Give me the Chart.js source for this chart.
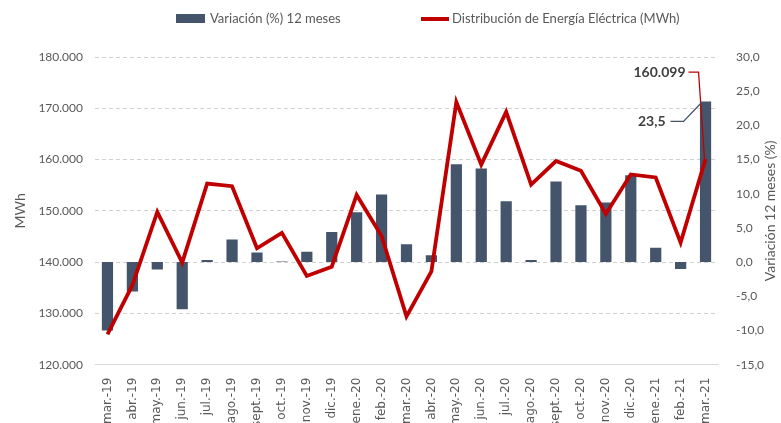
<!DOCTYPE html>
<html>
<head>
<meta charset="utf-8">
<script src="https://cdn.jsdelivr.net/npm/chart.js@4"></script>
<style>
  html, body { margin: 0; padding: 0; background: #fff; overflow: hidden; }
  #wrap { width: 781px; height: 432px; }
</style>
</head>
<body>
<div id="wrap"><canvas id="chart"></canvas></div>
<script>
var months = ['mar.-19', 'abr.-19', 'may.-19', 'jun.-19', 'jul.-19', 'ago.-19', 'sept.-19', 'oct.-19', 'nov.-19', 'dic.-19',
    'ene.-20', 'feb.-20', 'mar.-20', 'abr.-20', 'may.-20', 'jun.-20', 'jul.-20', 'ago.-20', 'sept.-20', 'oct.-20',
    'nov.-20', 'dic.-20', 'ene.-21', 'feb.-21', 'mar.-21'];

// variación 12 meses (%)
var variacion = [-10.0, -4.3, -1.1, -6.9, 0.3, 3.3, 1.4, 0.1, 1.5, 4.4,
    7.3, 9.9, 2.6, 1.0, 14.3, 13.7, 8.9, 0.3, 11.8, 8.3,
    8.7, 12.7, 2.1, -1.0, 23.5];

// distribución de energía eléctrica (MWh)
var energia = [125900, 135500, 149800, 139900, 155300, 154800, 142700, 145700, 137300, 139100,
    153100, 145100, 129400, 138200, 171200, 159000, 169300, 155100, 159700, 157800,
    149400, 157100, 156500, 143800, 160099];

var mwhTicks = [120000, 130000, 140000, 150000, 160000, 170000, 180000];
var pctTicks = [-15, -10, -5, 0, 5, 10, 15, 20, 25, 30];

var gray = '#595959';
var fontName = 'Lato, "Liberation Sans", sans-serif';
var barColor = '#44546a';
var lineColor = '#c00000';

function fmtMiles(v) {
    return Math.round(v).toString().replace(/\B(?=(\d{3})+(?!\d))/g, '.');
}
function fmtPct(v) {
    return v.toFixed(1).replace('.', ',');
}

// leyenda, etiquetas del ultimo mes y titulo del eje derecho
var extras = {
    id: 'extras',
    afterDraw: function (chart) {
        var c = chart.ctx;
        var ds = chart.data.datasets;
        c.save();
        c.font = '13px ' + fontName;
        c.textAlign = 'left';
        c.textBaseline = 'middle';
        c.fillStyle = barColor;
        c.fillRect(176, 14, 29, 9);
        c.fillStyle = gray;
        c.fillText(ds[0].label, 210, 19);
        c.strokeStyle = lineColor;
        c.lineWidth = 4;
        c.beginPath();
        c.moveTo(421, 19);
        c.lineTo(449, 19);
        c.stroke();
        c.fillText(ds[1].label, 452, 19);
        c.restore();
    },
    afterDatasetsDraw: function (chart) {
        var c = chart.ctx;
        var last = months.length - 1;
        var pt = chart.getDatasetMeta(1).data[last];
        var bar = chart.getDatasetMeta(0).data[last];
        c.save();
        c.font = 'bold 14px ' + fontName;
        c.fillStyle = '#404040';
        c.textAlign = 'right';
        c.textBaseline = 'middle';

        var lx = pt.x - 20, ly = pt.y - 87;
        c.fillText(fmtMiles(energia[last]), lx, ly);
        c.strokeStyle = lineColor;
        c.lineWidth = 1.3;
        c.beginPath();
        c.moveTo(lx + 3, ly);
        c.lineTo(pt.x - 7, ly);
        c.lineTo(pt.x - 1, pt.y);
        c.stroke();

        var bx = bar.x - 40, by = bar.y + 20;
        c.fillText(fmtPct(variacion[last]), bx, by);
        c.strokeStyle = barColor;
        c.beginPath();
        c.moveTo(bx + 5, by);
        c.lineTo(bx + 18, by);
        c.lineTo(bar.x - 4, bar.y + 1);
        c.stroke();

        var ca = chart.chartArea;
        c.font = '14px ' + fontName;
        c.fillStyle = gray;
        c.textAlign = 'center';
        c.translate(770, (ca.top + ca.bottom) / 2);
        c.rotate(-Math.PI / 2);
        c.fillText('Variación 12 meses (%)', 0, 0);
        c.restore();
    }
};

Chart.defaults.font.family = fontName;
Chart.defaults.color = gray;

new Chart(document.getElementById('chart').getContext('2d'), {
    type: 'bar',
    data: {
        labels: months,
        datasets: [{
            label: 'Variación (%) 12 meses',
            data: variacion,
            yAxisID: 'y1',
            backgroundColor: barColor,
            borderColor: barColor,
            barPercentage: 0.45,
            categoryPercentage: 1,
            order: 2
        }, {
            type: 'line',
            label: 'Distribución de Energía Eléctrica (MWh)',
            data: energia,
            yAxisID: 'y',
            borderColor: lineColor,
            backgroundColor: lineColor,
            borderWidth: 3.8,
            pointRadius: 0,
            tension: 0,
            order: 1
        }]
    },
    options: {
        responsive: true,
        maintainAspectRatio: false,
        animation: false,
        layout: { padding: { top: 57, left: 12, right: 0, bottom: 0 } },
        plugins: {
            tooltip: { enabled: false },
            legend: { display: false }
        },
        scales: {
            x: {
                grid: { display: false },
                border: { display: true, color: '#d9d9d9' },
                ticks: {
                    minRotation: 90, maxRotation: 90, autoSkip: false, padding: 5,
                    font: { size: 12, family: '"DejaVu Sans", sans-serif' }, color: gray
                }
            },
            y: {
                position: 'left',
                min: 120000,
                max: 180000,
                afterBuildTicks: function (s) { s.ticks = mwhTicks.map(function (v) { return { value: v }; }); },
                ticks: { callback: function (v) { return fmtMiles(v); }, font: { size: 12 }, color: gray, padding: 12 },
                grid: { color: '#d0d0d0', drawTicks: false },
                border: { display: false, dash: [4, 3] },
                title: { display: true, text: 'MWh', font: { size: 14 }, color: gray, padding: { top: 0, bottom: 8 } },
                afterFit: function (s) { s.width = 83; }
            },
            y1: {
                position: 'right',
                min: -15,
                max: 30,
                afterBuildTicks: function (s) { s.ticks = pctTicks.map(function (v) { return { value: v }; }); },
                ticks: { callback: function (v) { return fmtPct(v); }, font: { size: 12 }, color: gray, padding: 10 },
                grid: { display: false },
                border: { display: false },
                afterFit: function (s) { s.width = 63; }
            }
        }
    },
    plugins: [extras]
});
</script>
</body>
</html>
